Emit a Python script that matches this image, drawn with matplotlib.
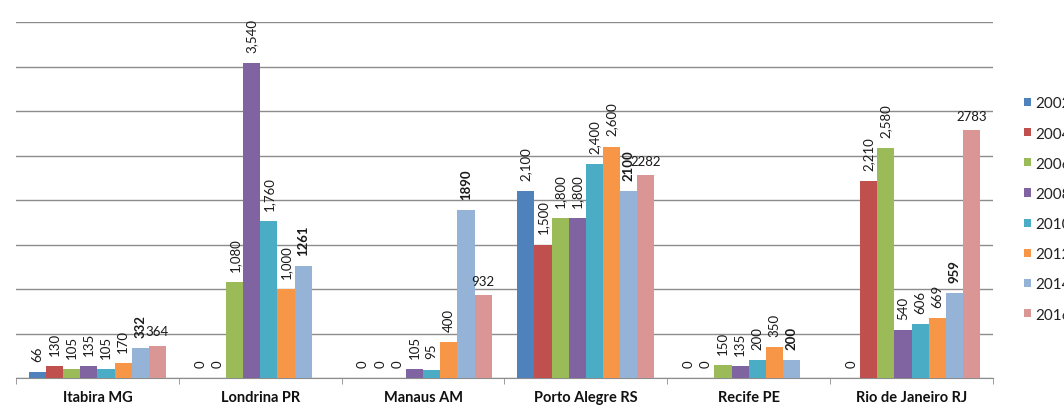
import numpy as np
import matplotlib.pyplot as plt
from matplotlib.patches import Patch

plt.rcParams["font.family"] = ["Lato", "DejaVu Sans"]

# Categories and one value list per year (NaN = no bar)
cities = ["Itabira MG", "Londrina PR", "Manaus AM",
          "Porto Alegre RS", "Recife PE", "Rio de Janeiro RJ"]
years = ["2002", "2004", "2006", "2008", "2010", "2012", "2014", "2016"]

v2002 = [66, 0, 0, 2100, 0, 0]
v2004 = [130, 0, 0, 1500, 0, 2210]
v2006 = [105, 1080, 0, 1800, 150, 2580]
v2008 = [135, 3540, 105, 1800, 135, 540]
v2010 = [105, 1760, 95, 2400, 200, 606]
v2012 = [170, 1000, 400, 2600, 350, 669]
v2014 = [332, 1261, 1890, 2100, 200, 959]
v2016 = [364, np.nan, 932, 2282, np.nan, 2783]

series = [v2002, v2004, v2006, v2008, v2010, v2012, v2014, v2016]
colors = ["#4F81BD", "#C0504D", "#9BBB59", "#8064A2",
          "#4BACC6", "#F79646", "#95B3D7", "#D99694"]

fig = plt.figure(figsize=(10.64, 4.10), dpi=100)
ax = fig.add_axes([16 / 1064, 31 / 410, 977 / 1064, 356 / 410])

n = len(series)
w = 1 / (n + 1.5)
x = np.arange(len(cities))

for i, (vals, col, yr) in enumerate(zip(series, colors, years)):
    xs = x + (i - (n - 1) / 2) * w
    vals = np.array(vals, dtype=float)
    ax.bar(xs, vals, width=w, color=col, label=yr, zorder=3)
    for xi, v in zip(xs, vals):
        if np.isnan(v):
            continue
        if yr == "2016":
            # last series labelled horizontally, no thousands separator
            ax.annotate(f"{int(v)}", (xi, v), xytext=(0, 6),
                        textcoords="offset points", ha="center", va="bottom",
                        fontsize=9.5, color="#1a1a1a", zorder=5)
        elif yr == "2014":
            ax.annotate(f"{int(v)}", (xi, v), xytext=(0, 8),
                        textcoords="offset points", ha="center", va="bottom",
                        rotation=90, fontsize=9.5, fontweight="bold",
                        color="#1a1a1a", zorder=5)
        else:
            ax.annotate(f"{int(v):,}", (xi, v), xytext=(0, 8),
                        textcoords="offset points", ha="center", va="bottom",
                        rotation=90, fontsize=9.5, color="#1a1a1a", zorder=5)

ax.set_xlim(-0.5, len(cities) - 0.5)
ax.set_ylim(0, 4000)
ax.set_yticks(np.arange(0, 4001, 500))
ax.yaxis.grid(True, color="#8c8c8c", linewidth=1.0, zorder=0)
ax.tick_params(axis="y", length=0, labelleft=False)

ax.set_xticks(x)
ax.set_xticklabels(cities, fontsize=10.5, fontweight="bold", color="#111111")
ax.set_xticks(np.arange(-0.5, len(cities)), minor=True)
ax.tick_params(axis="x", which="major", length=0, pad=9)
ax.tick_params(axis="x", which="minor", length=4, color="#8c8c8c")

for side in ["top", "right", "left"]:
    ax.spines[side].set_visible(False)
ax.spines["bottom"].set_color("#8c8c8c")

# legend runs off the right edge of the figure
handles = [Patch(facecolor=c, label=y) for c, y in zip(colors, years)]
fig.legend(handles=handles, loc="center left",
           bbox_to_anchor=(1024 / 1064, 1 - 210 / 410),
           frameon=False, fontsize=11, handlelength=0.45, handleheight=0.45,
           handletextpad=0.3, labelspacing=1.06, borderpad=0,
           borderaxespad=0, labelcolor="#222222")

fig.savefig("out.png", dpi=100)
